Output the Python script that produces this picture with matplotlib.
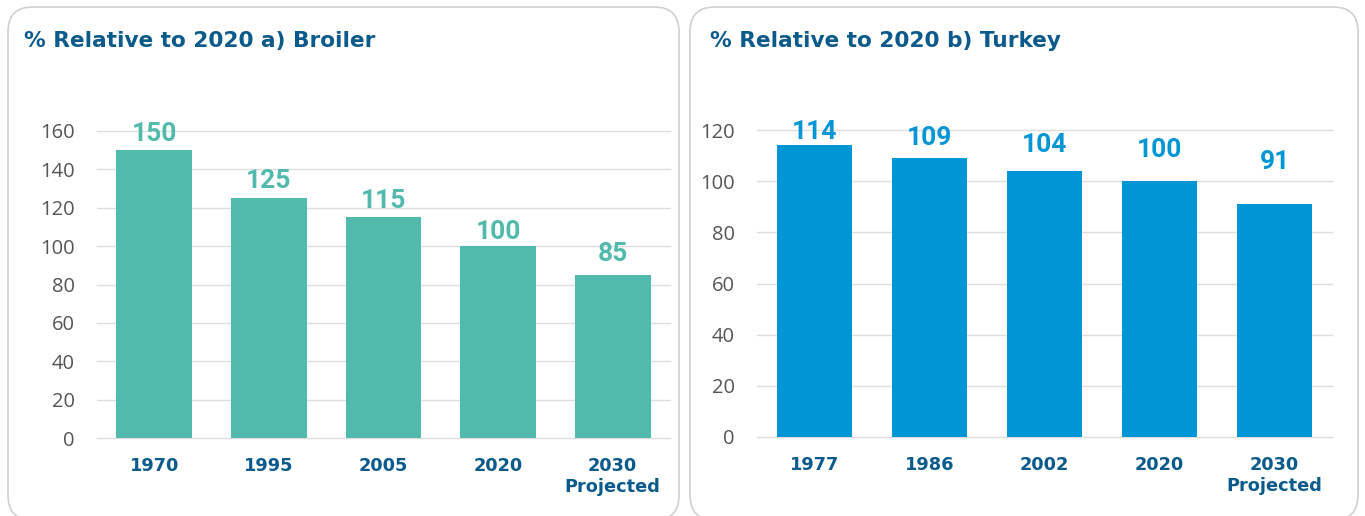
import matplotlib
matplotlib.use("Agg")
import matplotlib.pyplot as plt
from matplotlib.patches import FancyBboxPatch

broiler_years = ["1970", "1995", "2005", "2020", "2030\nProjected"]
broiler_values = [150, 125, 115, 100, 85]
turkey_years = ["1977", "1986", "2002", "2020", "2030\nProjected"]
turkey_values = [114, 109, 104, 100, 91]
broiler_ticks = [0, 20, 40, 60, 80, 100, 120, 140, 160]
turkey_ticks = [0, 20, 40, 60, 80, 100, 120]

# label gap above bar tops (pixels), a layout style
broiler_label_gap = [9, 10, 9, 7, 14]
turkey_label_gap = [6, 13, 19, 24, 35]

W, H = 1365, 516
fig = plt.figure(figsize=(W / 100, H / 100), dpi=100)
plt.rcParams['font.family'] = ['DejaVu Sans']

TITLE_C = "#0B5A8C"
TICK_C = "#555555"
GRID_C = "#DDDDDD"

def px_rect(x0, y0, x1, y1):
    return [x0 / W, 1 - y1 / H, (x1 - x0) / W, (y1 - y0) / H]

# panel borders
for (x0, y0, x1, y1) in [(8, 7, 679, 520), (690, 7, 1358, 520)]:
    p = FancyBboxPatch((x0 / W, 1 - y1 / H), (x1 - x0) / W, (y1 - y0) / H,
                       boxstyle="round,pad=0,rounding_size=0.018",
                       transform=fig.transFigure, facecolor="none",
                       edgecolor="#D0D0D0", linewidth=1.2, zorder=-1,
                       mutation_aspect=W / H)
    fig.patches.append(p)

def panel(rect, cats, vals, gaps, ticks, ymax, color, title, title_x):
    ax = fig.add_axes(px_rect(*rect))
    x = list(range(len(cats)))
    ax.bar(x, vals, width=0.66, color=color, zorder=3)
    ax.set_xlim(-0.5, len(cats) - 0.5)
    ax.set_ylim(0, ymax)
    ax.set_yticks(ticks)
    ax.set_yticklabels([str(t) for t in ticks], fontsize=14.5, color=TICK_C,
                       family="Open Sans")
    ax.set_xticks(x)
    ax.set_xticklabels(cats, fontsize=12.8, fontweight="bold", color=TITLE_C,
                       linespacing=1.25, va="top")
    ax.tick_params(axis="both", length=0)
    ax.tick_params(axis="x", pad=13.5)
    ax.tick_params(axis="y", pad=16)
    ax.grid(axis="y", color=GRID_C, linewidth=1, zorder=0)
    for gl in ax.get_ygridlines():
        gl.set_clip_on(False)
    for s in ax.spines.values():
        s.set_visible(False)
    ax.patch.set_alpha(0)
    for xi, v, g in zip(x, vals, gaps):
        ax.annotate(str(v), (xi, v), xytext=(0, g * 0.72),
                    textcoords="offset points", ha="center", va="baseline",
                    fontsize=19, fontweight="bold", family="Roboto",
                    color=color, zorder=4)
    fig.text(title_x / W, 1 - 41 / H, title, fontsize=15.6, fontweight="bold",
             color=TITLE_C, va="center", ha="left")
    return ax

panel((97, 131, 670, 438), broiler_years, broiler_values, broiler_label_gap,
      broiler_ticks, 160, "#52BAAD", "% Relative to 2020 a) Broiler", 24)
panel((757, 130, 1332, 437), turkey_years, turkey_values, turkey_label_gap,
      turkey_ticks, 120, "#0096D6", "% Relative to 2020 b) Turkey", 710)

fig.savefig("out.png", dpi=100)
